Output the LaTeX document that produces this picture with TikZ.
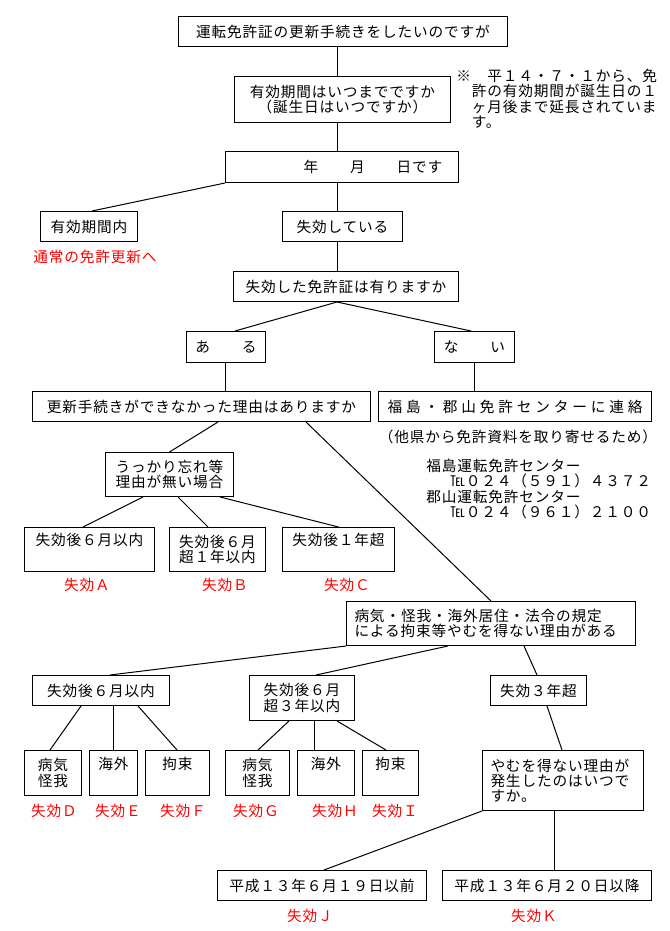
\documentclass[tikz,border=0pt]{standalone}
\usepackage{fontspec}
\setmainfont{Noto Sans CJK JP}[LetterSpace=5.7]

\tikzset{
  box/.style={draw, line width=0.75pt, inner sep=0pt, align=center},
  lbox/.style={draw, line width=0.75pt, inner xsep=6pt, inner ysep=0pt, align=left},
  sz/.style 2 args={minimum width=#1*0.75pt, minimum height=#2*0.75pt},
  lapse/.style={color={rgb, 255:red, 255; green, 0; blue, 0}, inner sep=0pt},
  link/.style={line width=0.75pt}
}

\begin{document}
\begin{tikzpicture}[x=0.75pt,y=0.75pt,yscale=-1,xscale=1,
  every node/.style={font=\fontsize{11}{11.4}\selectfont}]
\path [use as bounding box, fill=white] (0,0) rectangle (669,931);

\node [box, sz={329}{30}, anchor=north west] (t1) at (178,16) {運転免許証の更新手続きをしたいのですが};
\node [box, sz={216}{46}, anchor=north west] (t2) at (234,76) {有効期間はいつまでですか\\（誕生日はいつですか）};
\node [anchor=north west, inner sep=0pt, align=left] (note) at (456,69) {※　平１４・７・１から、免\\　許の有効期間が誕生日の１\\　ヶ月後まで延長されていま\\　す。};
\node [box, sz={233}{31}, anchor=north west] (t3) at (225,151) {　　　　年　　月　　日です};
\node [box, sz={97}{30}, anchor=north west] (valid) at (40,211) {有効期間内};
\node [lapse] (normal) at (95,257) {通常の免許更新へ};
\node [box, sz={120}{30}, anchor=north west] (lapsed) at (282,211) {失効している};
\node [box, sz={225}{30}, anchor=north west] (q2) at (233,271) {失効した免許証は有りますか};
\node [box, sz={79}{31}, anchor=north west] (aru) at (186,331) {あ　　る};
\node [box, sz={80}{31}, anchor=north west] (nai) at (434,331) {な　　い};
\node [box, sz={338}{30}, anchor=north west] (kosin) at (32,391) {更新手続きができなかった理由はありますか};
\node [box, sz={273}{30}, anchor=north west] (center) at (378,391) {{\addfontfeature{LetterSpace=26}福島・郡山免許センターに連絡}};
\node [inner sep=0pt] (fetch) at (518,437) {（他県から免許資料を取り寄せるため）};
\node [anchor=north west, inner sep=0pt, align=left] (tel) at (426,459) {福島運転免許センター\\\hspace*{18pt}℡０２４（５９１）４３７２\\郡山運転免許センター\\\hspace*{18pt}℡０２４（９６１）２１００};

\node [box, sz={128}{44}, anchor=north west] (ukkari) at (105,452) {うっかり忘れ等\\理由が無い場合};
\node [box, sz={130}{44}, anchor=north west] (la) at (24,527) {失効後６月以内\\\strut};
\node [box, sz={96}{44}, anchor=north west] (lb) at (169,527) {失効後６月\\超１年以内};
\node [box, sz={112}{44}, anchor=north west] (lc) at (282,527) {失効後１年超\\\strut};
\node [lapse] (ra) at (87,585) {失効Ａ};
\node [lapse] (rb) at (225,585) {失効Ｂ};
\node [lapse] (rc) at (347,585) {失効Ｃ};

\node [lbox, sz={289}{44}, text width=204.75pt, anchor=north west] (ill) at (346,601) {病気・怪我・海外居住・法令の規定\\による拘束等やむを得ない理由がある};
\node [box, sz={137}{30}, anchor=north west] (m1) at (32,675) {失効後６月以内};
\node [box, sz={105}{45}, anchor=north west] (m2) at (249,675) {失効後６月\\超３年以内};
\node [box, sz={96}{30}, anchor=north west] (m3) at (490,675) {失効３年超};

\node [box, sz={57}{45}, anchor=north west] (s1) at (24,750) {病気\\怪我};
\node [box, sz={48}{45}, anchor=north west] (s2) at (89,750) {海外\\\strut};
\node [box, sz={64}{45}, anchor=north west] (s3) at (145,750) {拘束\\\strut};
\node [box, sz={64}{45}, anchor=north west] (s4) at (225,750) {病気\\怪我};
\node [box, sz={57}{45}, anchor=north west] (s5) at (297,750) {海外\\\strut};
\node [box, sz={56}{45}, anchor=north west] (s6) at (362,750) {拘束\\\strut};
\node [lbox, sz={161}{60}, text width=108.75pt, anchor=north west] (why) at (482,750) {やむを得ない理由が\\発生したのはいつで\\すか。};
\node [lapse] (rd) at (54,811) {失効Ｄ};
\node [lapse] (re) at (118,811) {失効Ｅ};
\node [lapse] (rf) at (183,811) {失効Ｆ};
\node [lapse] (rg) at (256,811) {失効Ｇ};
\node [lapse] (rh) at (335,811) {失効Ｈ};
\node [lapse] (ri) at (395,811) {失効Ｉ};

\node [box, sz={209}{30}, anchor=north west] (d1) at (217,870) {平成１３年６月１９日以前};
\node [box, sz={209}{30}, anchor=north west] (d2) at (442,870) {平成１３年６月２０日以降};
\node [lapse] (rj) at (310,916) {失効Ｊ};
\node [lapse] (rk) at (534,916) {失効Ｋ};

% connectors
\draw [link] (t1.south -| 337,0) -- (t2.north -| 337,0);
\draw [link] (t2.south -| 337,0) -- (t3.north -| 337,0);
\draw [link] (t3.south west) -- (valid.north -| 92,0);
\draw [link] (t3.south -| 337,0) -- (lapsed.north -| 337,0);
\draw [link] (lapsed.south -| 337,0) -- (q2.north -| 337,0);
\draw [link] (q2.south -| 337,0) -- (aru.north -| 235,0);
\draw [link] (q2.south -| 337,0) -- (nai.north -| 471,0);
\draw [link] (aru.south -| 225,0) -- (kosin.north -| 225,0);
\draw [link] (nai.south -| 474,0) -- (center.north -| 474,0);
\draw [link] (kosin.south -| 218,0) -- (ukkari.north);
\draw [link] (kosin.south -| 306,0) -- (ill.north);
\draw [link] (ukkari.south -| 143,0) -- (la.north -| 83,0);
\draw [link] (ukkari.south -| 178,0) -- (lb.north -| 208,0);
\draw [link] (ukkari.south -| 220,0) -- (lc.north);
\draw [link] (ill.south west) -- (m1.north -| 110,0);
\draw [link] (ill.south -| 448,0) -- (m2.north -| 316,0);
\draw [link] (ill.south -| 524,0) -- (m3.north -| 537,0);
\draw [link] (m1.south -| 81,0) -- (s1.north -| 50,0);
\draw [link] (m1.south -| 113,0) -- (s2.north -| 113,0);
\draw [link] (m1.south -| 138,0) -- (s3.north -| 177,0);
\draw [link] (m2.south -| 289,0) -- (s4.north -| 258,0);
\draw [link] (m2.south -| 314,0) -- (s5.north -| 314,0);
\draw [link] (m2.south -| 337,0) -- (s6.north -| 386,0);
\draw [link] (m3.south -| 547,0) -- (why.north -| 562,0);
\draw [link] (why.south west) -- (d1.north -| 324,0);
\draw [link] (why.south -| 554,0) -- (d2.north -| 554,0);
\end{tikzpicture}
\end{document}
